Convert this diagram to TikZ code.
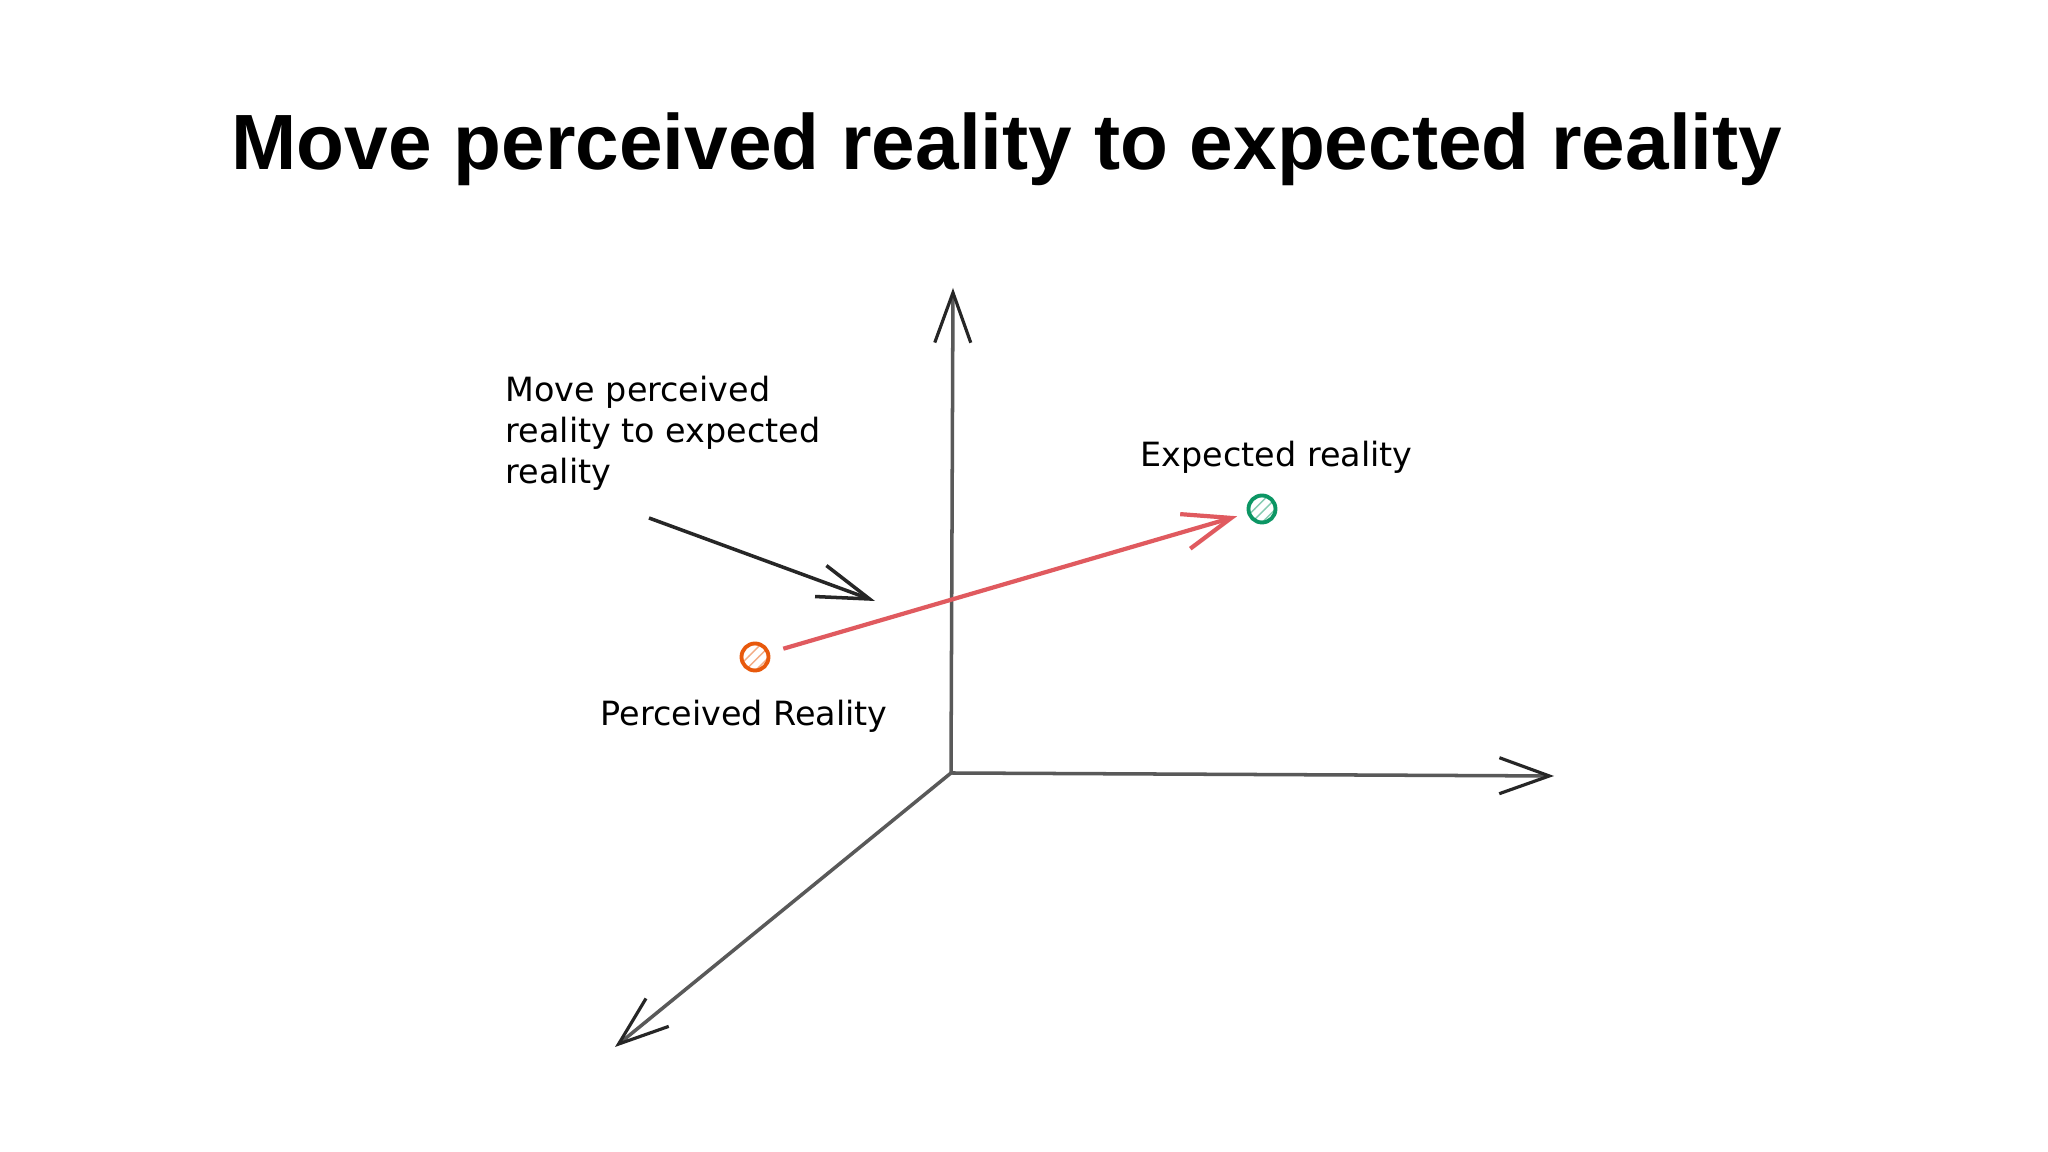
\documentclass[tikz,border=0pt]{standalone}
\usepackage{fontspec}
\newfontfamily\titlefont{Liberation Sans}
\newfontfamily\notefont{DejaVu Sans}
\usetikzlibrary{arrows.meta,patterns}
\definecolor{porange}{RGB}{232,89,12}
\definecolor{egreen}{RGB}{12,150,100}
\definecolor{redline}{RGB}{224,90,95}
\begin{document}
\begin{tikzpicture}[
    axis/.style={draw=black!65, line width=1pt,
      -{Straight Barb[length=0.5cm, width=0.36cm, color=black!85, line width=0.9pt]}},
    redarrow/.style={draw=redline, line width=1.2pt,
      -{Straight Barb[length=0.48cm, width=0.36cm]}, shorten <=4pt, shorten >=3pt},
    pointer/.style={draw=black!85, line width=1pt,
      -{Straight Barb[length=0.52cm, width=0.33cm]}},
    dot/.style={circle, minimum size=0.27cm, inner sep=0pt, line width=1.1pt},
    hand/.style={font=\notefont\fontsize{9.5}{11.7}\selectfont, inner sep=0pt, align=left}
  ]
    \fill[white] (0,0) rectangle (20.48,11.52);
    \useasboundingbox (0,0) rectangle (20.48,11.52);

    \node[anchor=base west, inner sep=0pt] (title) at (2.31,9.82)
      {\titlefont\fontsize{22.3}{26}\selectfont\bfseries Move perceived reality to expected reality};

    \coordinate (O) at (9.51,3.79);
    \coordinate (ytip) at (9.53,8.64);
    \coordinate (xtip) at (15.54,3.76);
    \coordinate (ztip) at (6.15,1.05);
    \foreach \tip in {ytip, xtip, ztip} {
        \draw[axis] (O) -- (\tip);
      }

    \node[dot, draw=porange, pattern=north east lines, pattern color=porange!50] (pr) at (7.55,4.95) {};
    \node[dot, draw=egreen, pattern=north east lines, pattern color=egreen!50] (er) at (12.62,6.43) {};
    \draw[redarrow] (pr) -- (er);

    \coordinate (ptail) at (6.49,6.34);
    \coordinate (phead) at (8.75,5.51);
    \draw[pointer] (ptail) -- (phead);

    \node[hand, anchor=base west] (note) at (5.05,6.68) {Move perceived\\reality to expected\\reality};
    \node[hand, anchor=base west] (erlabel) at (11.40,6.85) {Expected reality};
    \node[hand, anchor=base west] (prlabel) at (6.00,4.26) {Perceived Reality};
\end{tikzpicture}
\end{document}
